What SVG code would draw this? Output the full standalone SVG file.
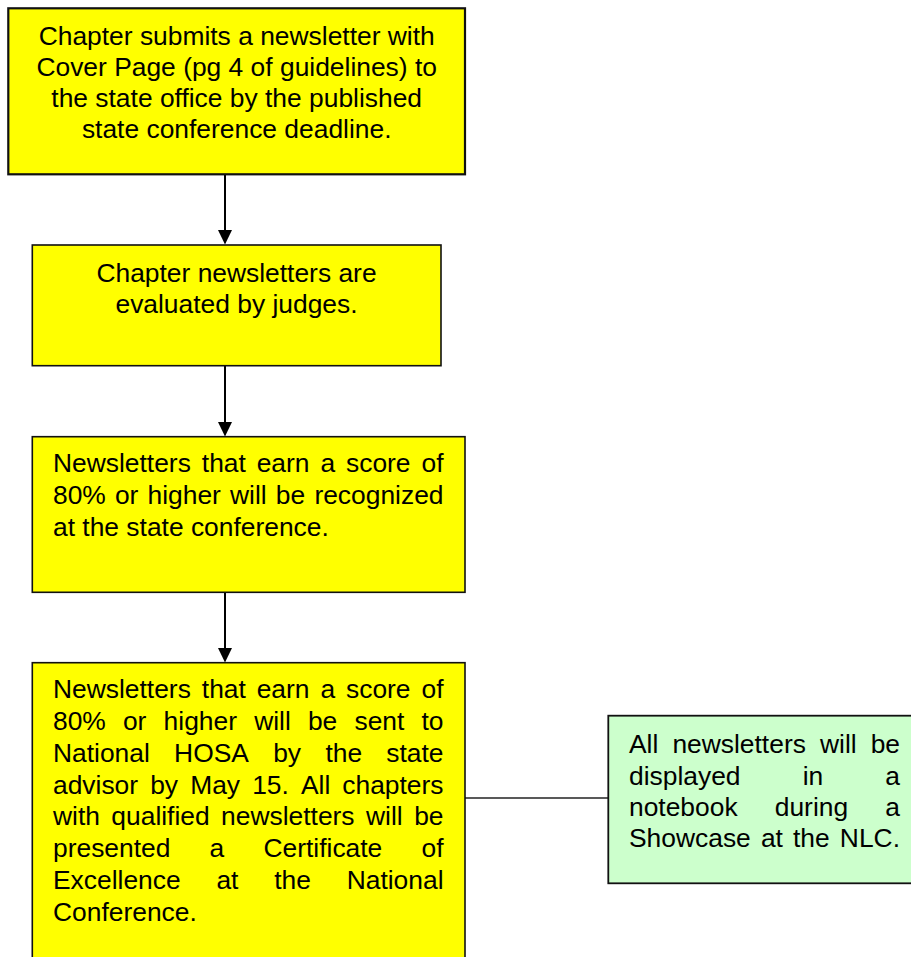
<svg xmlns="http://www.w3.org/2000/svg" width="911" height="957" viewBox="0 0 911 957">
<style>
.box{fill:#FFFF00;stroke:#111;stroke-width:1.6}
.green{fill:#CCFFCC;stroke:#111;stroke-width:1.8}
.t{font-family:"Liberation Sans",Arial,sans-serif;font-size:26.4px;fill:#000}
.c{text-anchor:middle}
.e{text-anchor:end}
.ln{stroke:#000;stroke-width:2;fill:none}
.head{fill:#000}
</style>
<rect width="911" height="957" fill="#fff"/>
<g id="connectors">
<line class="ln" x1="225" y1="174" x2="225" y2="232"/>
<polygon class="head" points="218,230 232,230 225,244.5"/>
<line class="ln" x1="225" y1="366" x2="225" y2="424"/>
<polygon class="head" points="218,422 232,422 225,436.5"/>
<line class="ln" x1="225" y1="592" x2="225" y2="650"/>
<polygon class="head" points="218,648 232,648 225,662.5"/>
<line x1="465" y1="798" x2="608" y2="798" stroke="#222" stroke-width="1.6"/>
</g>
<g id="node1">
<rect class="box" x="8.3" y="8.3" width="456.7" height="166" style="stroke-width:2.2"/>
<text class="t c" x="236.7" y="45">Chapter submits a newsletter with</text>
<text class="t c" x="236.7" y="76">Cover Page (pg 4 of guidelines) to</text>
<text class="t c" x="236.7" y="107">the state office by the published</text>
<text class="t c" x="236.7" y="138">state conference deadline.</text>
</g>
<g id="node2">
<rect class="box" x="32.3" y="245" width="408.7" height="120.7"/>
<text class="t c" x="236.5" y="282">Chapter newsletters are</text>
<text class="t c" x="236.5" y="313">evaluated by judges.</text>
</g>
<g id="node3">
<rect class="box" x="32.3" y="436.7" width="432.7" height="155.6"/>
<text class="t" y="472.3"><tspan x="53">Newsletters</tspan><tspan x="201.8">that</tspan><tspan x="256.7">earn</tspan><tspan x="320.4">a</tspan><tspan x="346">score</tspan><tspan x="443.5" class="e">of</tspan></text>
<text class="t" y="504.3"><tspan x="53">80%</tspan><tspan x="114.9">or</tspan><tspan x="147.5">higher</tspan><tspan x="230">will</tspan><tspan x="275.8">be</tspan><tspan x="443.5" class="e">recognized</tspan></text>
<text class="t" x="53" y="536.3">at the state conference.</text>
</g>
<g id="node4">
<rect class="box" x="32.3" y="662.7" width="432.7" height="310"/>
<text class="t" y="698.3"><tspan x="53">Newsletters</tspan><tspan x="201.8">that</tspan><tspan x="256.7">earn</tspan><tspan x="320.4">a</tspan><tspan x="346">score</tspan><tspan x="443.5" class="e">of</tspan></text>
<text class="t" y="730.1"><tspan x="53">80%</tspan><tspan x="122.95">or</tspan><tspan x="163.6">higher</tspan><tspan x="254.15">will</tspan><tspan x="307.9">be</tspan><tspan x="354.45">sent</tspan><tspan x="443.5" class="e">to</tspan></text>
<text class="t" y="761.9"><tspan x="53">National</tspan><tspan x="174.1">HOSA</tspan><tspan x="273.2">by</tspan><tspan x="325.4">the</tspan><tspan x="443.5" class="e">state</tspan></text>
<text class="t" y="793.6"><tspan x="53">advisor</tspan><tspan x="150.2">by</tspan><tspan x="190.2">May</tspan><tspan x="252.2">15.</tspan><tspan x="301">All</tspan><tspan x="443.5" class="e">chapters</tspan></text>
<text class="t" y="825.4"><tspan x="53">with</tspan><tspan x="111.35">qualified</tspan><tspan x="221.1">newsletters</tspan><tspan x="366.05">will</tspan><tspan x="443.5" class="e">be</tspan></text>
<text class="t" y="857.2"><tspan x="53">presented</tspan><tspan x="209.6">a</tspan><tspan x="263.5">Certificate</tspan><tspan x="443.5" class="e">of</tspan></text>
<text class="t" y="889"><tspan x="53">Excellence</tspan><tspan x="216.4">at</tspan><tspan x="274.2">the</tspan><tspan x="443.5" class="e">National</tspan></text>
<text class="t" x="53" y="920.7">Conference.</text>
</g>
<g id="node5">
<rect class="green" x="608.3" y="715.7" width="320" height="167.6"/>
<text class="t" y="753.3"><tspan x="629">All</tspan><tspan x="672.4">newsletters</tspan><tspan x="820">will</tspan><tspan x="900" class="e">be</tspan></text>
<text class="t" y="784.6"><tspan x="629">displayed</tspan><tspan x="802.65">in</tspan><tspan x="900" class="e">a</tspan></text>
<text class="t" y="815.9"><tspan x="629">notebook</tspan><tspan x="774.75">during</tspan><tspan x="900" class="e">a</tspan></text>
<text class="t" y="847.3"><tspan x="629">Showcase</tspan><tspan x="760.9">at</tspan><tspan x="793">the</tspan><tspan x="900" class="e">NLC.</tspan></text>
</g>
</svg>
